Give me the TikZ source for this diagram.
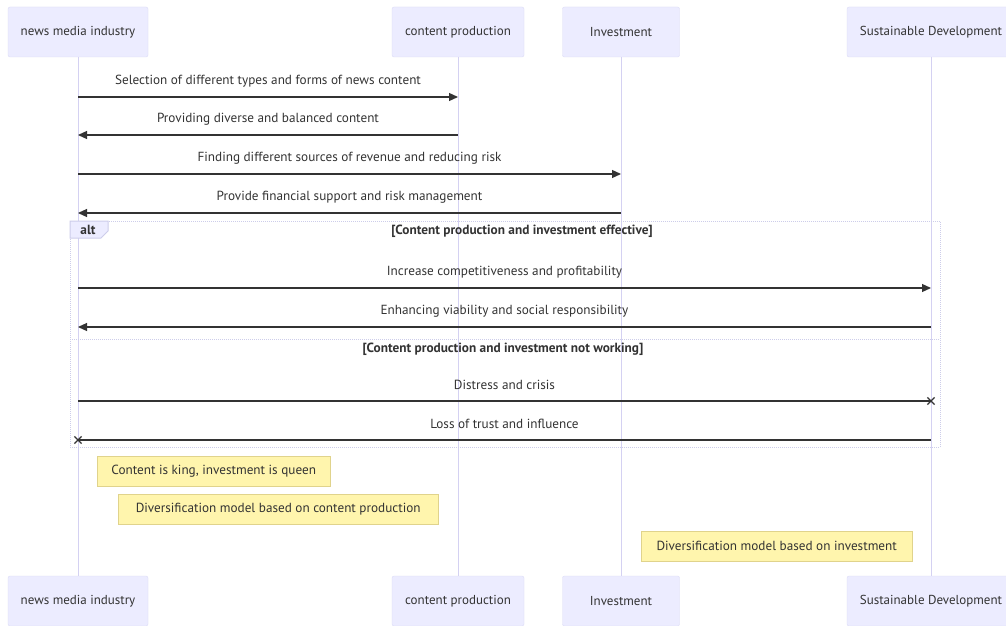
\documentclass[tikz,border=0pt]{standalone}
\usepackage{fontspec}
\setmainfont{PT Sans}
\usetikzlibrary{arrows.meta,shapes.misc}
\definecolor{actorfill}{HTML}{ECECFF}
\definecolor{actorline}{HTML}{DCDCF6}
\definecolor{lifecol}{HTML}{D4D1F2}
\definecolor{notefill}{HTML}{FFF5AD}
\definecolor{noteline}{HTML}{E0D38C}
\definecolor{msgcol}{HTML}{333333}
\definecolor{altcol}{HTML}{CDCDEA}
\tikzset{
    actor/.style={draw=actorline, fill=actorfill, rounded corners=2pt, minimum height=50pt, text=msgcol, font=\fontsize{13}{15}\selectfont},
    life/.style={draw=lifecol, line width=1pt},
    msg/.style={draw=msgcol, line width=1.2pt, -{Triangle[length=9pt,width=8pt]}},
    lost/.style={draw=msgcol, line width=1.2pt},
    msgtext/.style={midway, yshift=16pt, text=msgcol, font=\fontsize{13.2}{15}\selectfont},
    xmark/.style={cross out, draw=msgcol, line width=1.2pt, minimum size=6pt, inner sep=0pt},
    altbox/.style={draw=altcol, densely dotted, line width=1pt},
    condtext/.style={text=msgcol, font=\fontsize{13.3}{15}\selectfont\bfseries},
    note/.style={draw=noteline, fill=notefill, anchor=west, minimum height=30pt, text=msgcol, font=\fontsize{13.2}{15}\selectfont}
}
\begin{document}
\begin{tikzpicture}[x=1pt,y=-1pt]
    \fill[white] (0,0) rectangle (1006,626);
    \useasboundingbox (0,0) rectangle (1006,626);

    % participants and lifelines
    \foreach \nm/\x/\w/\txt in {nmi/78/140/news media industry, cp/458/132/content production, inv/621/117/Investment, sd/931/168/Sustainable Development} {
        \node[actor, minimum width=\w pt] (\nm-top) at (\x,32) {\txt};
        \node[actor, minimum width=\w pt] (\nm-bot) at (\x,601) {\txt};
        \draw[life] (\nm-top) -- (\nm-bot);
    }

    % alt frame
    \draw[altbox] (70,221) rectangle (940,447);
    \draw[altbox] (70,339) -- (940,339);
    \filldraw[fill=actorfill, draw=altcol, line width=1pt] (70,221) -- (108,221) -- (108,231) -- (101,238) -- (70,238) -- cycle;
    \node[condtext] (alt) at (88,230) {alt};
    \node[condtext] (okcase) at (522,231) {[Content production and investment effective]};
    \node[condtext] (badcase) at (503,349) {[Content production and investment not working]};

    % messages
    \foreach \a/\b/\y/\txt in {nmi/cp/97/Selection of different types and forms of news content,
                              cp/nmi/135/Providing diverse and balanced content,
                              nmi/inv/174/Finding different sources of revenue and reducing risk,
                              inv/nmi/213/Provide financial support and risk management,
                              nmi/sd/288/Increase competitiveness and profitability,
                              sd/nmi/327/Enhancing viability and social responsibility} {
        \draw[msg] (\a-top |- 0,\y) -- node[msgtext]{\txt} (\b-top |- 0,\y);
    }
    \draw[lost] (nmi-top |- 0,401) -- node[msgtext]{Distress and crisis} (sd-top |- 0,401);
    \node[xmark] (end1) at (sd-top |- 0,401) {};
    \draw[lost] (sd-top |- 0,440) -- node[msgtext]{Loss of trust and influence} (nmi-top |- 0,440);
    \node[xmark] (end2) at (nmi-top |- 0,440) {};

    % notes
    \node[note, minimum width=233pt] (king) at (97,471) {Content is king, investment is queen};
    \node[note, minimum width=320pt] (divcp) at (118,509) {Diversification model based on content production};
    \node[note, minimum width=271pt] (divinv) at (641,546) {Diversification model based on investment};
\end{tikzpicture}
\end{document}
